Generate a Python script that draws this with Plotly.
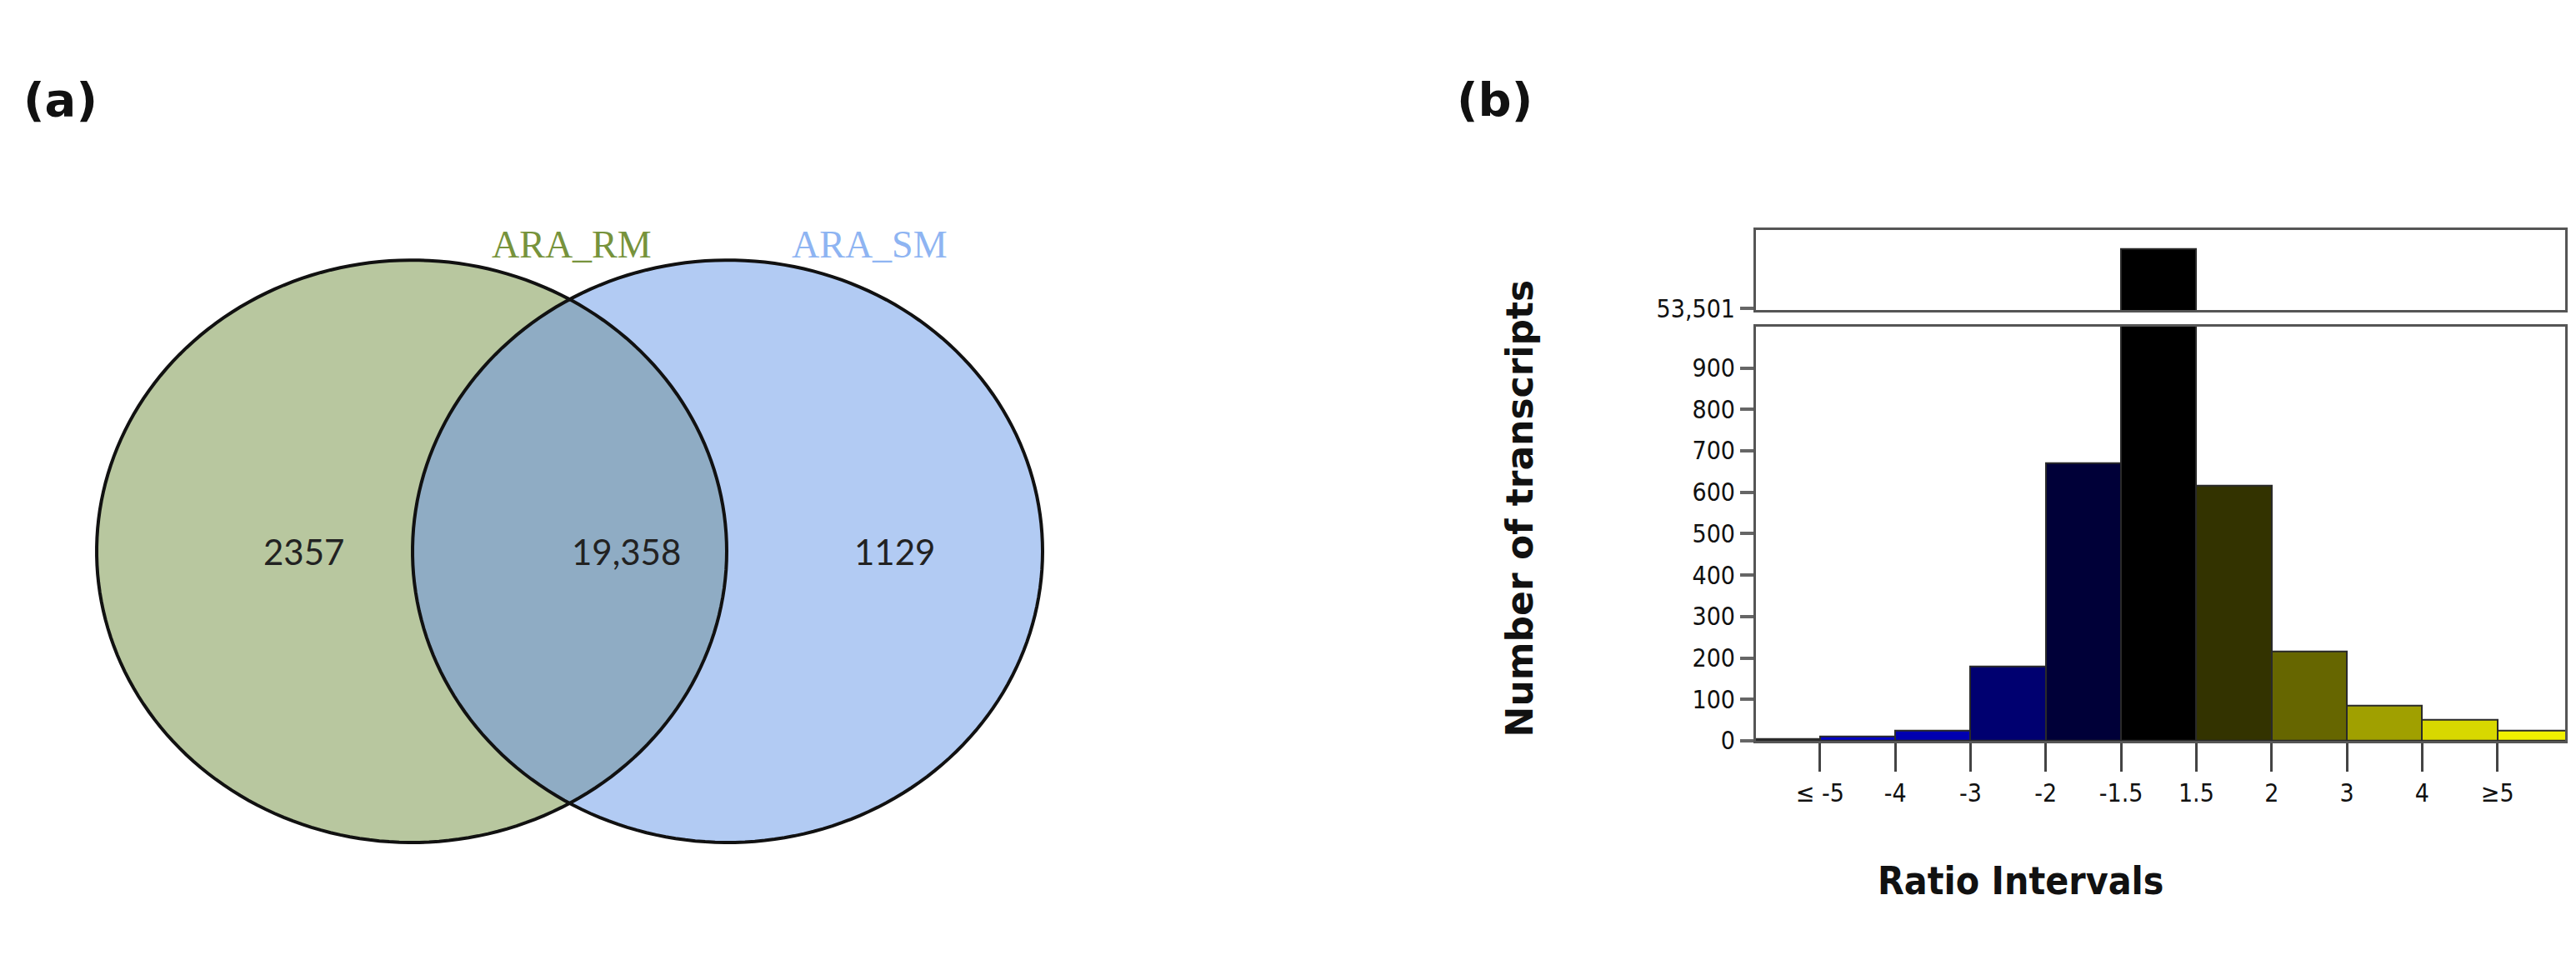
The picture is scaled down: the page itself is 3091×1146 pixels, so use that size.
import numpy as np
import plotly.graph_objects as go

# ---------- data ----------
venn_labels = ["ARA_RM", "ARA_SM"]
venn_counts = ["2357", "19,358", "1129"]
bin_idx = list(range(11))
counts = [5, 10, 25, 180, 670, 53652, 615, 215, 85, 50, 25]
bar_colors = ["#5a5a6e", "#0000c8", "#0000b0", "#000070", "#000038", "#000000",
              "#333300", "#666600", "#a0a000", "#d8d800", "#f0f000"]
tick_labels = ["≤ -5", "-4", "-3", "-2", "-1.5", "1.5", "2", "3", "4", "≥5"]
tick_pos = [k + 0.5 for k in range(10)]
y_ticks = list(range(0, 1000, 100))

W, H = 3091, 1146
def px(x): return x / W
def py(y): return 1 - y / H

fig = go.Figure()
bar_line = dict(color="#2a2a2a", width=2)
fig.add_trace(go.Bar(x=bin_idx, y=counts, width=1, marker=dict(color=bar_colors, line=bar_line),
                     xaxis="x", yaxis="y", showlegend=False))
fig.add_trace(go.Bar(x=bin_idx, y=counts, width=1, marker=dict(color=bar_colors, line=bar_line),
                     xaxis="x2", yaxis="y2", showlegend=False))

frame = dict(showline=True, linecolor="#555555", linewidth=3, mirror=True, showgrid=False, zeroline=False)
tickfont = dict(family="DejaVu Sans Condensed, Liberation Sans Narrow, sans-serif", size=30, color="#111")
xr = [-0.35, 10.4]
xd = [px(2099), px(3070)]
fig.update_layout(
    width=W, height=H, margin=dict(l=0, r=0, t=0, b=0),
    paper_bgcolor="white", plot_bgcolor="white", bargap=0,
    xaxis=dict(domain=xd, range=xr, anchor="y", tickvals=tick_pos, ticktext=tick_labels,
               ticks="outside", ticklen=34, tickwidth=3, tickcolor="#444", tickfont=tickfont,
               showline=True, linecolor="#555555", linewidth=3, mirror=True, showgrid=False, zeroline=False),
    yaxis=dict(domain=[py(895), py(390)], range=[0, 1000], tickvals=y_ticks, anchor="x",
               ticks="outside", ticklen=16, tickwidth=4, tickcolor="#666", tickfont=tickfont, **frame),
    xaxis2=dict(domain=xd, range=xr, anchor="y2", showticklabels=False, ticks="", **frame),
    yaxis2=dict(domain=[py(370), py(272)], range=[53497, 53700], tickvals=[53501], ticktext=["53,501"],
                anchor="x2", ticks="outside", ticklen=16, tickwidth=4, tickcolor="#666", tickfont=tickfont, **frame),
)

# ---------- Venn ----------
rx, ry = 378, 355
cy = 664
cl, cr = 486, 865
def ell_path(cx):
    t = np.linspace(0, 2 * np.pi, 200)
    pts = [(px(cx + rx * np.cos(a)), py(cy + ry * np.sin(a))) for a in t]
    return "M " + " L ".join(f"{x:.5f},{y:.5f}" for x, y in pts) + " Z"

fig.add_shape(type="path", xref="paper", yref="paper", path=ell_path(cl),
              fillcolor="#b8c79f", line=dict(width=0))
fig.add_shape(type="path", xref="paper", yref="paper", path=ell_path(cr),
              fillcolor="#b2cbf3", line=dict(width=0))
d = (cr - cl) / 2
mid = (cl + cr) / 2
phi = np.arccos(d / rx)
lens = [(cl + rx * np.cos(a), cy + ry * np.sin(a)) for a in np.linspace(-phi, phi, 100)]
lens += [(cr + rx * np.cos(a), cy + ry * np.sin(a)) for a in np.linspace(np.pi + phi, np.pi - phi, 100)]
lens_path = "M " + " L ".join(f"{px(x):.5f},{py(y):.5f}" for x, y in lens) + " Z"
fig.add_shape(type="path", xref="paper", yref="paper", path=lens_path,
              fillcolor="#8facc4", line=dict(width=0))
for c in (cl, cr):
    fig.add_shape(type="path", xref="paper", yref="paper", path=ell_path(c),
                  fillcolor="rgba(0,0,0,0)", line=dict(color="#111", width=4))

num_font = dict(family="Lato, sans-serif", size=42, color="#222")
for txt, x in zip(venn_counts, [cl - 180, mid, cr + 200]):
    fig.add_annotation(x=px(x), y=py(cy), xref="paper", yref="paper", text=txt,
                       showarrow=False, font=num_font)
fig.add_annotation(x=px(580), y=py(262), xref="paper", yref="paper", text=venn_labels[0],
                   showarrow=False, font=dict(family="Liberation Serif, serif", size=46, color="#77933c"))
fig.add_annotation(x=px(940), y=py(262), xref="paper", yref="paper", text=venn_labels[1],
                   showarrow=False, font=dict(family="Liberation Serif, serif", size=46, color="#8eb4f2"))

# panel letters & titles
for t, x in [("(a)", 18), ("(b)", 1738)]:
    fig.add_annotation(x=px(x), y=py(78), xref="paper", yref="paper", text=f"<b>{t}</b>", xanchor="left",
                       showarrow=False, font=dict(family="DejaVu Sans, sans-serif", size=56, color="#111"))
fig.add_annotation(x=px(2590), y=py(1095), xref="paper", yref="paper", text="<b>Ratio Intervals</b>",
                   showarrow=False, font=dict(family="DejaVu Sans Condensed, sans-serif", size=46, color="#111"))
fig.add_annotation(x=px(1815), y=py(612), xref="paper", yref="paper", text="<b>Number of transcripts</b>",
                   textangle=-90, showarrow=False, font=dict(family="DejaVu Sans, sans-serif", size=44, color="#111"))

fig.write_html("out.html")
